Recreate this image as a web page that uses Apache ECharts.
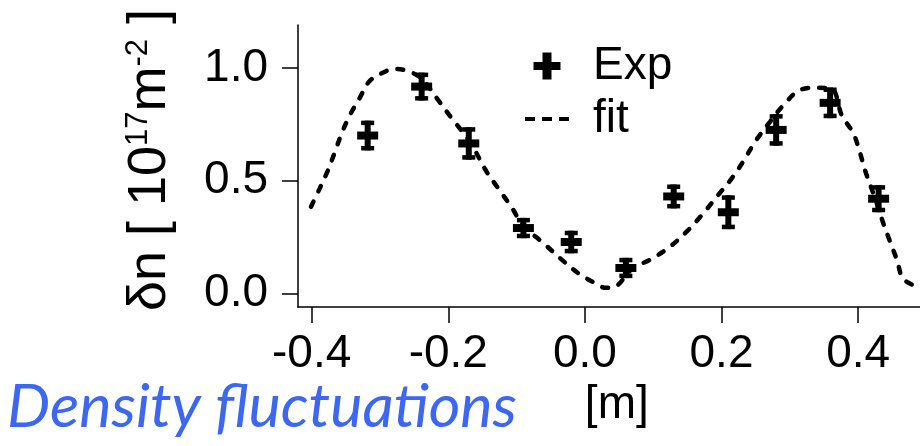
<!DOCTYPE html>
<html>
<head>
<meta charset="utf-8">
<script src="https://cdn.jsdelivr.net/npm/echarts@6/dist/echarts.min.js"></script>
<style>
  html, body { margin: 0; padding: 0; background: #fff; }
  #chart { width: 920px; height: 446px; }
</style>
</head>
<body>
<div id="chart"></div>
<script>
// Measured density fluctuation profile: position [m], amplitude [1e17 m^-2], error bar half-height
const expX   = [-0.318, -0.239, -0.170, -0.090, -0.020, 0.060, 0.130, 0.210, 0.280, 0.359, 0.430];
const expY   = [0.700, 0.917, 0.665, 0.290, 0.228, 0.113, 0.430, 0.360, 0.725, 0.845, 0.420];
const expErr = [0.066, 0.062, 0.072, 0.045, 0.050, 0.045, 0.053, 0.075, 0.070, 0.068, 0.060];

// Fitted curve
const fitX = [-0.401, -0.388, -0.376, -0.366, -0.356, -0.344, -0.330, -0.315, -0.292, -0.278, -0.262,
              -0.240, -0.215, -0.195, -0.168, -0.144, -0.125, -0.106, -0.091, -0.061, -0.034, -0.007,
              0.017, 0.030, 0.044, 0.070, 0.096, 0.124, 0.150, 0.173, 0.195, 0.215, 0.233, 0.249,
              0.271, 0.291, 0.315, 0.339, 0.362, 0.376, 0.393, 0.403, 0.410, 0.425, 0.437, 0.447,
              0.457, 0.466, 0.488];
const fitY = [0.384, 0.467, 0.547, 0.627, 0.710, 0.791, 0.865, 0.942, 0.984, 0.995, 0.988,
              0.955, 0.858, 0.777, 0.670, 0.540, 0.458, 0.376, 0.302, 0.224, 0.150, 0.084,
              0.043, 0.025, 0.030, 0.112, 0.150, 0.206, 0.277, 0.354, 0.436, 0.510, 0.591, 0.672,
              0.761, 0.836, 0.902, 0.912, 0.905, 0.790, 0.710, 0.621, 0.547, 0.420, 0.310, 0.228,
              0.147, 0.065, 0.028];

const xTicks = [-0.4, -0.2, 0.0, 0.2, 0.4];
const yTicks = [0.0, 0.5, 1.0];

const FONT = 'Liberation Sans, Arial, Helvetica, sans-serif';

const expData = expX.map((x, i) => [x, expY[i], expErr[i]]);
const fitData = fitX.map((x, i) => [x, fitY[i]]);

function renderErrorPoint(params, api) {
  const x = api.value(0), y = api.value(1), e = api.value(2);
  const c = api.coord([x, y]);
  const top = api.coord([x, y + e]);
  const bot = api.coord([x, y - e]);
  const fill = { fill: '#000' };
  return {
    type: 'group',
    children: [
      { type: 'rect', shape: { x: c[0] - 3, y: top[1], width: 6, height: bot[1] - top[1] }, style: fill },
      { type: 'rect', shape: { x: c[0] - 6.5, y: top[1], width: 13, height: 4.5 }, style: fill },
      { type: 'rect', shape: { x: c[0] - 6.5, y: bot[1] - 4.5, width: 13, height: 4.5 }, style: fill },
      { type: 'rect', shape: { x: c[0] - 10.5, y: c[1] - 4, width: 21, height: 8 }, style: fill }
    ]
  };
}

const chart = echarts.init(document.getElementById('chart'), null, { renderer: 'canvas' });

chart.setOption({
  animation: false,
  backgroundColor: '#fff',
  title: {
    text: 'Density fluctuations',
    left: 7,
    top: 377,
    padding: 0,
    textStyle: {
      fontFamily: 'Lato, Open Sans, sans-serif',
      fontStyle: 'italic',
      fontWeight: 'normal',
      fontSize: 61,
      color: '#3b67f4'
    }
  },
  legend: {
    orient: 'vertical',
    left: 523,
    top: 43,
    itemWidth: 44,
    itemHeight: 27,
    itemGap: 7,
    padding: 0,
    textStyle: { fontFamily: FONT, fontSize: 46, color: '#000', padding: [0, 0, 0, 19] },
    data: [
      { name: 'Exp', icon: 'path://M9,0h9v9.5h9v8h-9v9.5h-9v-9.5h-9v-8h9z' },
      {
        name: 'fit',
        itemStyle: { opacity: 0 },
        lineStyle: { type: [10, 7], width: 4, cap: 'butt', color: '#000', opacity: 1 }
      }
    ]
  },
  grid: { left: 298, right: 0.4, top: 25, bottom: 139, outerBoundsMode: 'none' },
  xAxis: {
    type: 'value',
    min: -0.42,
    max: 0.49,
    name: '[m]',
    nameLocation: 'middle',
    nameGap: 75,
    nameTextStyle: { fontFamily: FONT, fontSize: 46, color: '#000', padding: [0, 0, 0, 16] },
    axisLine: { show: true, onZero: false, lineStyle: { color: '#000', width: 1.5 } },
    axisTick: { show: true, inside: false, length: 16, customValues: xTicks, lineStyle: { color: '#000', width: 1.5 } },
    axisLabel: {
      customValues: xTicks,
      margin: 24,
      fontFamily: FONT, fontSize: 46, color: '#000',
      formatter: v => v.toFixed(1)
    },
    splitLine: { show: false }
  },
  yAxis: {
    type: 'value',
    min: -0.06,
    max: 1.19,
    name: '{t|δn [ 10}{s|17}{t|m}{s|-2}{t| ]}',
    nameLocation: 'middle',
    nameGap: 121,
    nameTextStyle: {
      padding: [0, 0, 0, 12],
      rich: {
        t: { fontFamily: FONT, fontSize: 54, color: '#000' },
        s: { fontFamily: FONT, fontSize: 31, color: '#000', verticalAlign: 'top' }
      }
    },
    axisLine: { show: true, onZero: false, lineStyle: { color: '#000', width: 1.5 } },
    axisTick: { show: true, inside: false, length: 16, customValues: yTicks, lineStyle: { color: '#000', width: 1.5 } },
    axisLabel: {
      customValues: yTicks,
      margin: 30,
      fontFamily: FONT, fontSize: 46, color: '#000',
      formatter: v => v.toFixed(1)
    },
    splitLine: { show: false }
  },
  series: [
    {
      name: 'fit',
      type: 'line',
      data: fitData,
      smooth: 0.35,
      showSymbol: false,
      symbol: 'none',
      itemStyle: { color: '#000' },
      lineStyle: { color: '#000', width: 4.5, type: [6, 11], cap: 'round' },
      z: 2
    },
    {
      name: 'Exp',
      type: 'custom',
      data: expData,
      renderItem: renderErrorPoint,
      itemStyle: { color: '#000' },
      encode: { x: 0, y: 1 },
      z: 3
    }
  ]
});
</script>
</body>
</html>
